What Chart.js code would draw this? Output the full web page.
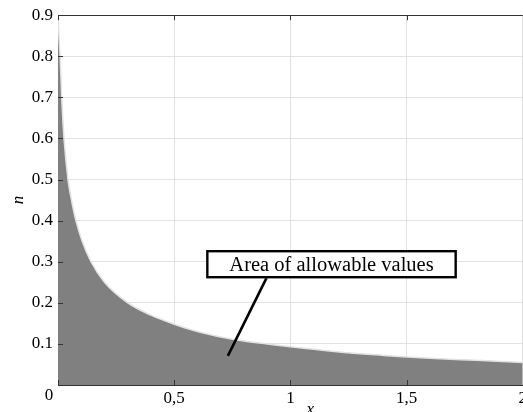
<!DOCTYPE html>
<html><head><meta charset="utf-8">
<script src="https://cdn.jsdelivr.net/npm/chart.js@4/dist/chart.umd.min.js"></script>
<style>
html,body{margin:0;padding:0;background:#fff;overflow:hidden}
#wrap{position:relative;width:530px;height:418px}
</style></head>
<body><div id="wrap"><canvas id="c"></canvas></div>
<script>
// Data
const xValues = [0, 0.004, 0.009, 0.016, 0.026, 0.043, 0.058, 0.077, 0.104, 0.142, 0.2, 0.3, 0.4, 0.5, 0.6, 0.7, 0.8, 0.9, 1.0, 1.2, 1.4, 1.5, 1.6, 1.8, 2.0];
const nValues = [0.9, 0.85, 0.8, 0.7, 0.6, 0.5, 0.45, 0.4, 0.35, 0.3, 0.25, 0.2, 0.17, 0.148, 0.13, 0.117, 0.107, 0.1, 0.093, 0.081, 0.072, 0.068, 0.065, 0.06, 0.055];
const xTicks = [0, 0.5, 1, 1.5, 2];
const yTicks = [0, 0.1, 0.2, 0.3, 0.4, 0.5, 0.6, 0.7, 0.8, 0.9];
const xTickLabels = ['0', '0,5', '1', '1,5', '2'];
const yTickLabels = ['0', '0.1', '0.2', '0.3', '0.4', '0.5', '0.6', '0.7', '0.8', '0.9'];
const xTitle = 'x';
const yTitle = 'n';
const annotationText = 'Area of allowable values';
const annotationCenter = [1.177, 0.294];
const annotationLineFrom = [0.897, 0.26];
const annotationLineTo = [0.731, 0.071];

const SERIF = "'Liberation Serif', 'Times New Roman', serif";
const points = xValues.map((x, i) => ({x: x, y: nValues[i]}));
const GRID = 'rgba(216,216,216,0.75)';

const decorPlugin = {
  id: 'decor',
  afterDraw(chart) {
    const {ctx, chartArea: a, scales: {x, y}} = chart;
    ctx.save();
    // inward tick marks
    ctx.strokeStyle = '#333';
    ctx.lineWidth = 1;
    ctx.beginPath();
    xTicks.forEach(v => {
      const px = Math.round(x.getPixelForValue(v)) + 0.5;
      ctx.moveTo(px, a.bottom); ctx.lineTo(px, a.bottom - 5);
      ctx.moveTo(px, a.top); ctx.lineTo(px, a.top + 5);
    });
    yTicks.forEach(v => {
      const py = Math.round(y.getPixelForValue(v)) + 0.5;
      ctx.moveTo(a.left, py); ctx.lineTo(a.left + 5, py);
    });
    ctx.stroke();
    // top frame line
    ctx.beginPath();
    ctx.moveTo(a.left, Math.round(a.top) + 0.5);
    ctx.lineTo(a.right, Math.round(a.top) + 0.5);
    ctx.stroke();
    // corner "0"
    ctx.fillStyle = '#000';
    ctx.font = '17px ' + SERIF;
    ctx.textAlign = 'center';
    ctx.textBaseline = 'middle';
    ctx.fillText(xTickLabels[0], x.getPixelForValue(0) - 9, y.getPixelForValue(0) + 11);
    // x axis title
    ctx.font = 'italic 17px ' + SERIF;
    ctx.fillText(xTitle, (a.left + a.right) / 2 + 20, y.getPixelForValue(0) + 25);
    // annotation line
    ctx.strokeStyle = '#000';
    ctx.lineWidth = 2.6;
    ctx.beginPath();
    ctx.moveTo(x.getPixelForValue(annotationLineFrom[0]), y.getPixelForValue(annotationLineFrom[1]));
    ctx.lineTo(x.getPixelForValue(annotationLineTo[0]), y.getPixelForValue(annotationLineTo[1]));
    ctx.stroke();
    // annotation box
    ctx.font = '20.5px ' + SERIF;
    const tw = ctx.measureText(annotationText).width;
    const cx = x.getPixelForValue(annotationCenter[0]);
    const cy = y.getPixelForValue(annotationCenter[1]);
    const bw = tw + 44, bh = 26;
    ctx.fillStyle = '#fff';
    ctx.fillRect(cx - bw / 2, cy - bh / 2, bw, bh);
    ctx.lineWidth = 2.4;
    ctx.strokeRect(cx - bw / 2, cy - bh / 2, bw, bh);
    ctx.fillStyle = '#000';
    ctx.fillText(annotationText, cx, cy + 1);
    ctx.restore();
  }
};

new Chart(document.getElementById('c'), {
  type: 'line',
  data: {
    datasets: [{
      data: points,
      fill: 'origin',
      backgroundColor: '#808080',
      borderColor: '#e2e2e2',
      borderWidth: 1.5,
      pointRadius: 0,
      cubicInterpolationMode: 'monotone'
    }]
  },
  options: {
    responsive: true,
    maintainAspectRatio: false,
    animation: false,
    devicePixelRatio: 1,
    layout: {padding: {top: 15, right: 4, left: 0, bottom: 0}},
    plugins: {legend: {display: false}, tooltip: {enabled: false}},
    scales: {
      x: {
        type: 'linear', min: 0, max: 2, z: 1,
        afterBuildTicks: s => { s.ticks = xTicks.map(v => ({value: v})); },
        afterFit: s => { s.height = 33; },
        ticks: {
          autoSkip: false, maxRotation: 0, padding: 3, color: '#000',
          font: {family: SERIF, size: 17},
          callback: (v, i) => i === 0 ? '' : xTickLabels[i]
        },
        grid: {color: GRID, drawTicks: false, lineWidth: 1},
        border: {color: '#333', width: 1}
      },
      y: {
        type: 'linear', min: 0, max: 0.9, z: 1,
        afterBuildTicks: s => { s.ticks = yTicks.map(v => ({value: v})); },
        afterFit: s => { s.width = 58; },
        ticks: {
          autoSkip: false, padding: 5, color: '#000',
          font: {family: SERIF, size: 17},
          callback: (v, i) => i === 0 ? '' : yTickLabels[i]
        },
        title: {display: true, text: yTitle, color: '#000', padding: {top: 8, bottom: 0},
                font: {family: SERIF, size: 17, style: 'italic'}},
        grid: {color: GRID, drawTicks: false, lineWidth: 1},
        border: {color: '#333', width: 1}
      }
    }
  },
  plugins: [decorPlugin]
});
</script>
</body></html>
